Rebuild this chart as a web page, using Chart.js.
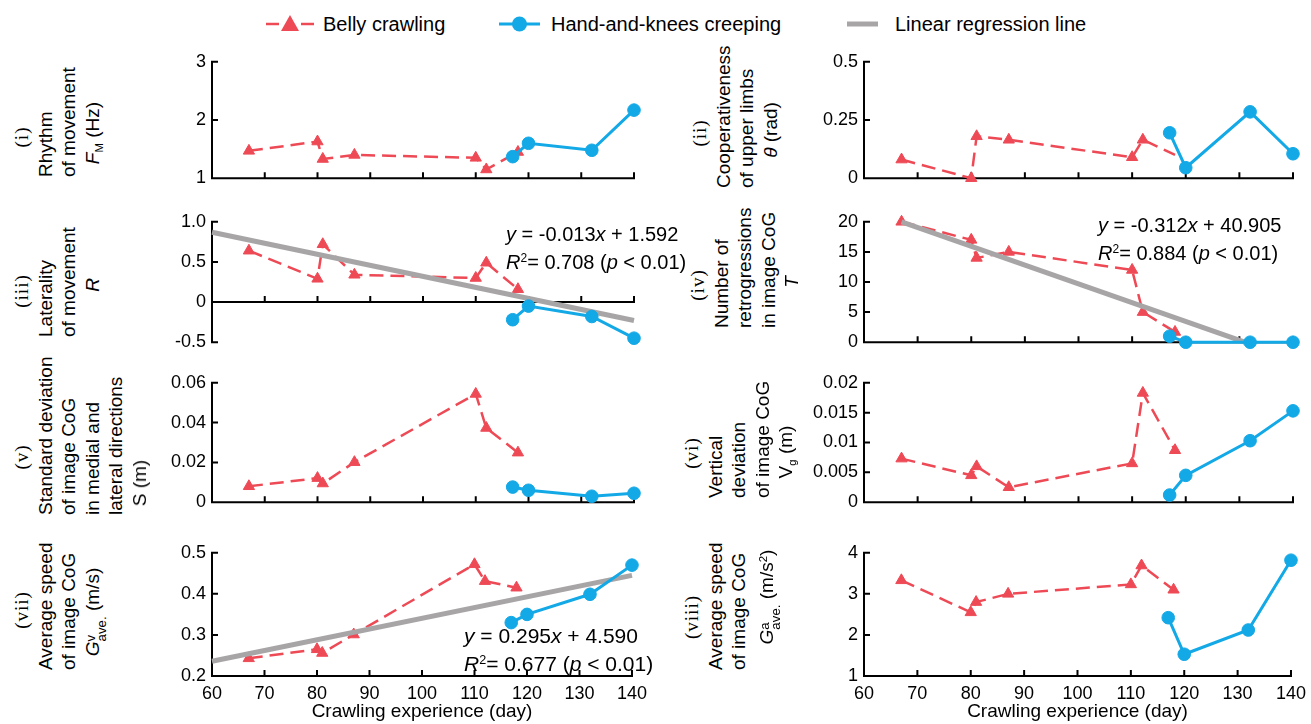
<!DOCTYPE html>
<html>
<head>
<meta charset="utf-8">
<script src="https://cdn.jsdelivr.net/npm/chart.js@4"></script>
<style>
  body { margin: 0; background: #fff; width: 1311px; height: 724px; position: relative; overflow: hidden;
         font-family: "Liberation Sans", Arial, sans-serif; color: #000; }
  .panel { position: absolute; }
  .lbl { position: absolute; white-space: nowrap; font-size: 19px; line-height: 24px; transform-origin: 0 0; }
  .roman { font-family: "Liberation Serif", serif; letter-spacing: 1px; }
  .ann { position: absolute; white-space: nowrap; line-height: 24px; }
  .leg { position: absolute; top: 12px; }
  .legtxt { position: absolute; top: 12px; font-size: 20px; line-height: 24px; white-space: nowrap; }
  sub { font-size: 0.6em; vertical-align: -0.35em; }
  sup { font-size: 0.6em; vertical-align: 0.55em; }
  .ss { display: inline-block; vertical-align: -0.5em; font-size: 0.7em; line-height: 0.8em; text-align: left; }
  .ss span { display: block; }
</style>
</head>
<body>
<script>
// crawling experience (days) of each recording
const dayTicks = [60, 70, 80, 90, 100, 110, 120, 130, 140];
const bellyDays = [67, 80, 81, 87, 110, 112, 118];
const creepDays = [117, 120, 132, 140];

// (i) rhythm of movement
const rhythmTicks = ['1', '2', '3'];
const rhythmBelly = [1.47, 1.63, 1.33, 1.40, 1.35, 1.15, 1.45];
const rhythmCreep = [1.37, 1.60, 1.48, 2.17];

// (ii) cooperativeness of upper limbs
const coopTicks = ['0', '0.25', '0.5'];
const coopBelly = [0.08, 0.0, 0.18, 0.165, 0.09, 0.165, 0.10];
const coopCreep = [0.195, 0.045, 0.285, 0.105];

// (iii) laterality of movement
const latTicks = ['-0.5', '0', '0.5', '1.0'];
const latBelly = [0.64, 0.29, 0.72, 0.34, 0.30, 0.49, 0.16];
const latCreep = [-0.22, -0.05, -0.18, -0.45];
const latRegDays = [60, 140];
const latReg = [0.87, -0.23];

// (iv) number of retrogressions
const retroTicks = ['0', '5', '10', '15', '20'];
const retroBelly = [20, 17, 14, 15, 12, 5, 1.7];
const retroCreep = [1, 0, 0, 0];
const retroRegDays = [67, 131];
const retroReg = [20, 0];

// (v) standard deviation medial/lateral
const sdTicks = ['0', '0.02', '0.04', '0.06'];
const sdBelly = [0.008, 0.0121, 0.0094, 0.0201, 0.0544, 0.0373, 0.0249];
const sdCreep = [0.0076, 0.006, 0.003, 0.0045];

// (vi) vertical deviation
const vdTicks = ['0', '0.005', '0.01', '0.015', '0.02'];
const vdBelly = [0.0073, 0.0045, 0.006, 0.0025, 0.0065, 0.0183, 0.0087];
const vdCreep = [0.0012, 0.0045, 0.0103, 0.0153];

// (vii) average speed
const speedTicks = ['0.2', '0.3', '0.4', '0.5'];
const speedBelly = [0.243, 0.265, 0.256, 0.301, 0.472, 0.431, 0.415];
const speedCreep = [0.330, 0.350, 0.399, 0.470];
const speedRegDays = [60, 140];
const speedReg = [0.236, 0.445];

// (viii) average acceleration
const accTicks = ['1', '2', '3', '4'];
const accBelly = [3.33, 2.55, 2.80, 3.00, 3.23, 3.69, 3.10];
const accCreep = [2.42, 1.53, 2.12, 3.82];

const RED = '#EE4A56', BLUE = '#13A8E6', GRAY = '#A8A5A7';

const COLS = [{ ax: 212, ex: 634, lx: 22 }, { ax: 864, ex: 1293, lx: 694 }];
const ROWS = [{ ty: 57, by: 183 }, { ty: 217, by: 347 }, { ty: 378, by: 507 }, { ty: 548, by: 676 }];

const panels = [
  { col: 0, row: 0, ticks: rhythmTicks, belly: rhythmBelly, creep: rhythmCreep,
    label: ['(i)', 'Rhythm', 'of movement', '<i>F</i><sub>M</sub> (Hz)'], lab: [137, 177, 133] },
  { col: 1, row: 0, ticks: coopTicks, belly: coopBelly, creep: coopCreep, lx: 700, hideLastBelly: true,
    label: ['(ii)', 'Cooperativeness', 'of upper limbs', '<i>θ</i> (rad)'], lab: [133, 188, 130] },
  { col: 0, row: 1, ticks: latTicks, belly: latBelly, creep: latCreep, axisAt: 0, regDays: latRegDays, reg: latReg,
    label: ['(iii)', 'Laterality', 'of movement', '<i>R</i>'], lab: [291, 337, 285] },
  { col: 1, row: 1, ticks: retroTicks, belly: retroBelly, creep: retroCreep, regDays: retroRegDays, reg: retroReg, lx: 698,
    label: ['(iv)', 'Number of', 'retrogressions', 'in image CoG', '<i>T</i>'], lab: [285, 328, 282] },
  { col: 0, row: 2, ticks: sdTicks, belly: sdBelly, creep: sdCreep,
    label: ['(v)', 'Standard deviation', 'of image CoG', 'in medial and', 'lateral directions', 'S (m)'], lab: [457, 515, 483] },
  { col: 1, row: 2, ticks: vdTicks, belly: vdBelly, creep: vdCreep, lx: 692,
    label: ['(vi)', 'Vertical', 'deviation', 'of image CoG', 'V<sub>g</sub> (m)'], lab: [453, 498, 452] },
  { col: 0, row: 3, ticks: speedTicks, belly: speedBelly, creep: speedCreep, regDays: speedRegDays, reg: speedReg,
    label: ['(vii)', 'Average speed', 'of image CoG', '<i>G</i><span class="ss"><span>v</span><span>ave.</span></span> (m/s)'], lab: [610, 670, 612] },
  { col: 1, row: 3, ticks: accTicks, belly: accBelly, creep: accCreep, lx: 692,
    label: ['(viii)', 'Average speed', 'of image CoG', '<i>G</i><span class="ss"><span>a</span><span>ave.</span></span> (m/s<sup>2</sup>)'], lab: [617, 670, 597] },
];

// axis lines and inward ticks, drawn from the chart's own scales
const axisLines = {
  id: 'axisLines',
  beforeDatasetsDraw(chart, args, opts) {
    const { ctx, chartArea: a, scales: { x, y } } = chart;
    const y0 = y.getPixelForValue(opts.at);
    ctx.save();
    ctx.strokeStyle = '#000';
    ctx.lineWidth = 2;
    ctx.beginPath();
    ctx.moveTo(a.left, a.top - 1);
    ctx.lineTo(a.left, a.bottom + 1);
    ctx.moveTo(a.left - 1, y0);
    ctx.lineTo(a.right + 1, y0);
    x.ticks.forEach(t => {
      const px = x.getPixelForValue(t.value);
      ctx.moveTo(px, y0);
      ctx.lineTo(px, y0 - 6);
    });
    y.ticks.forEach(t => {
      const py = y.getPixelForValue(t.value);
      ctx.moveTo(a.left, py);
      ctx.lineTo(a.left + 6, py);
    });
    ctx.stroke();
    ctx.restore();
  }
};

function pts(xs, ys) {
  return xs.map((d, i) => ({ x: d, y: ys[i] }));
}

function addLine(html, cx, y, centered, cls) {
  const d = document.createElement('div');
  d.className = 'lbl' + (cls ? ' ' + cls : '');
  d.innerHTML = html;
  d.style.left = (cx - 12) + 'px';
  d.style.top = y + 'px';
  d.style.transform = centered ? 'rotate(-90deg) translateX(-50%)' : 'rotate(-90deg)';
  document.body.appendChild(d);
}

function makePanel(p) {
  const c = COLS[p.col], r = ROWS[p.row], bottom = p.row === 3;
  const padL = 80, padR = 20, padT = 12, xh = bottom ? 47 : 0, padB = bottom ? 0 : 12;
  const w = c.ex - c.ax + padL + padR, h = r.by - r.ty + padT + padB + xh;
  const box = document.createElement('div');
  box.className = 'panel';
  box.style.left = (c.ax - padL) + 'px';
  box.style.top = (r.ty - padT) + 'px';
  box.style.width = w + 'px';
  box.style.height = h + 'px';
  const cv = document.createElement('canvas');
  cv.width = w;
  cv.height = h;
  box.appendChild(cv);
  document.body.appendChild(box);

  const tickVals = p.ticks.map(Number);
  const datasets = [];
  if (p.reg) {
    datasets.push({ data: pts(p.regDays, p.reg), borderColor: GRAY, borderWidth: 5, pointRadius: 0, order: 1, clip: false });
  }
  const lastBelly = bellyDays.length - 1;
  datasets.push({ data: pts(bellyDays, p.belly), borderColor: RED, backgroundColor: RED, borderWidth: 2.5,
    borderDash: [14, 7], pointStyle: 'triangle', pointBorderWidth: 1, order: 2, clip: false,
    pointRadius: ctx => (p.hideLastBelly && ctx.dataIndex === lastBelly ? 0 : 6.5) });
  datasets.push({ data: pts(creepDays, p.creep), borderColor: BLUE, backgroundColor: BLUE, borderWidth: 3,
    pointStyle: 'circle', pointRadius: 6.3, pointBorderWidth: 1, order: 0, clip: false });

  new Chart(cv, {
    type: 'line',
    data: { datasets },
    options: {
      responsive: false,
      animation: false,
      devicePixelRatio: 1,
      layout: { padding: { top: padT, right: padR, bottom: padB, left: 0 } },
      plugins: { legend: { display: false }, tooltip: { enabled: false }, axisLines: { at: p.axisAt ?? tickVals[0] } },
      scales: {
        x: {
          type: 'linear', min: 60, max: 140,
          afterBuildTicks: s => { s.ticks = dayTicks.map(v => ({ value: v })); },
          afterFit: s => { s.height = xh; },
          grid: { display: false, drawTicks: false },
          border: { display: false },
          ticks: { display: bottom, color: '#000', font: { size: 18 }, padding: 7, maxRotation: 0, autoSkip: false },
          title: { display: bottom, text: 'Crawling experience (day)', color: '#000', font: { size: 19 }, padding: { top: 0, bottom: 0 } }
        },
        y: {
          type: 'linear', min: tickVals[0], max: tickVals[tickVals.length - 1],
          afterBuildTicks: s => { s.ticks = tickVals.map(v => ({ value: v })); },
          afterFit: s => { s.width = padL; },
          grid: { display: false, drawTicks: false },
          border: { display: false },
          ticks: { color: '#000', font: { size: 18 }, padding: 6, callback: (v, i) => p.ticks[i] }
        }
      }
    },
    plugins: [axisLines]
  });

  // rotated multi-line y-axis title
  const x0 = p.lx ?? c.lx, step = 23.5, n = p.label.length;
  p.label.forEach((t, i) => {
    const cx = x0 + i * step;
    if (i === 0) addLine(t, cx, p.lab[0], true, 'roman');
    else if (i === n - 1) addLine(t, cx, p.lab[2], true);
    else addLine(t, cx, p.lab[1], false);
  });
}

panels.forEach(makePanel);

// regression annotations
const anns = [
  { x: 506, y: 222, size: 20, l1: '<i>y</i> = -0.013<i>x</i> + 1.592', l2: '<i>R</i><sup>2</sup>= 0.708 (<i>p</i> &lt; 0.01)' },
  { x: 1098, y: 213, size: 20, l1: '<i>y</i> = -0.312<i>x</i> + 40.905', l2: '<i>R</i><sup>2</sup>= 0.884 (<i>p</i> &lt; 0.01)' },
  { x: 464, y: 624, size: 21, l1: '<i>y</i> = 0.295<i>x</i> + 4.590', l2: '<i>R</i><sup>2</sup>= 0.677 (<i>p</i> &lt; 0.01)' },
];
anns.forEach(a => {
  const d = document.createElement('div');
  d.className = 'ann';
  d.style.left = a.x + 'px';
  d.style.top = a.y + 'px';
  d.style.fontSize = a.size + 'px';
  d.innerHTML = a.l1 + '<br>' + a.l2;
  document.body.appendChild(d);
});

// legend
const legend = [
  { x: 266, w: 48, tx: 323, text: 'Belly crawling',
    svg: `<line x1="0" y1="12" x2="13" y2="12" stroke="${RED}" stroke-width="2.5"/><line x1="35" y1="12" x2="48" y2="12" stroke="${RED}" stroke-width="2.5"/><polygon points="24,3 33,19 15,19" fill="${RED}"/>` },
  { x: 499, w: 41, tx: 551, text: 'Hand-and-knees creeping',
    svg: `<line x1="0" y1="12" x2="41" y2="12" stroke="${BLUE}" stroke-width="3"/><circle cx="20.5" cy="12" r="7.5" fill="${BLUE}"/>` },
  { x: 847, w: 31, tx: 895, text: 'Linear regression line',
    svg: `<line x1="0" y1="12" x2="31" y2="12" stroke="${GRAY}" stroke-width="5"/>` },
];
legend.forEach(l => {
  const s = document.createElementNS('http://www.w3.org/2000/svg', 'svg');
  s.setAttribute('class', 'leg');
  s.setAttribute('width', l.w);
  s.setAttribute('height', 24);
  s.style.left = l.x + 'px';
  s.innerHTML = l.svg;
  document.body.appendChild(s);
  const t = document.createElement('div');
  t.className = 'legtxt';
  t.style.left = l.tx + 'px';
  t.textContent = l.text;
  document.body.appendChild(t);
});
</script>
</body>
</html>
